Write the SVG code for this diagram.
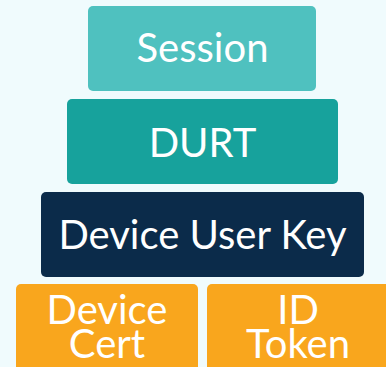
<svg xmlns="http://www.w3.org/2000/svg" width="386" height="367" viewBox="0 0 386 367">
<style>
text{font-family:Lato,"Open Sans","Liberation Sans",sans-serif;fill:#ffffff;text-anchor:middle;font-size:40px}
</style>
<rect x="0" y="0" width="386" height="367" fill="#F0FBFD"/>
<g id="session"><rect x="88" y="6" width="228" height="85" rx="5" fill="#4FC1BF"/><text x="202.5" y="62">Session</text></g>
<g id="durt"><rect x="67" y="99" width="271" height="85" rx="5" fill="#17A29C"/><text x="202.5" y="157">DURT</text></g>
<g id="duk"><rect x="41" y="192" width="323" height="85" rx="5" fill="#0B2B4A"/><text x="202.5" y="249">Device User Key</text></g>
<g id="devicecert"><rect x="16" y="284" width="182" height="95" rx="5" fill="#F9A61D"/><text x="107" y="324">Device</text><text x="107" y="358">Cert</text></g>
<g id="idtoken"><rect x="207" y="284" width="185" height="95" rx="5" fill="#F9A61D"/><text x="298" y="324">ID</text><text x="298" y="358">Token</text></g>
<g id="connectors"></g>
</svg>
